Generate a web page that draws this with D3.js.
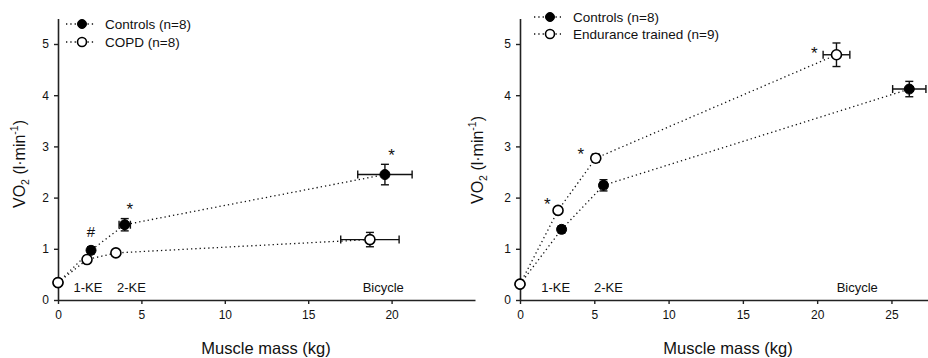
<!DOCTYPE html>
<html>
<head>
<meta charset="utf-8">
<script src="https://cdn.jsdelivr.net/npm/d3@7"></script>
<style>
body { margin: 0; background: #fff; }
svg text { font-family: "Liberation Sans", Arial, sans-serif; fill: #111; }
</style>
</head>
<body>
<div id="chart"></div>
<script>
// left panel: Controls vs COPD
var leftControls = [
    {x: 0, y: 0.34, xe: 0, ye: 0},
    {x: 1.98, y: 0.97, xe: 0.1, ye: 0.07},
    {x: 4.0, y: 1.47, xe: 0.34, ye: 0.12},
    {x: 19.6, y: 2.45, xe: 1.63, ye: 0.2}
];
var leftCopd = [
    {x: 0, y: 0.34, xe: 0, ye: 0},
    {x: 1.74, y: 0.79, xe: 0.1, ye: 0.06},
    {x: 3.47, y: 0.92, xe: 0.2, ye: 0.05},
    {x: 18.7, y: 1.18, xe: 1.75, ye: 0.14}
];
// right panel: Controls vs Endurance trained
var rightControls = [
    {x: 0, y: 0.31, xe: 0, ye: 0},
    {x: 2.8, y: 1.38, xe: 0.15, ye: 0.07},
    {x: 5.62, y: 2.24, xe: 0.22, ye: 0.11},
    {x: 26.2, y: 4.12, xe: 1.12, ye: 0.15}
];
var rightTrained = [
    {x: 0, y: 0.31, xe: 0, ye: 0},
    {x: 2.56, y: 1.75, xe: 0.12, ye: 0.06},
    {x: 5.1, y: 2.77, xe: 0.2, ye: 0.08},
    {x: 21.3, y: 4.79, xe: 0.9, ye: 0.23}
];
var xTicks = [0, 5, 10, 15, 20];
var xTicksRight = [0, 5, 10, 15, 20, 25];
var yTicks = [0, 1, 2, 3, 4, 5];
var modeLabelsLeft = [{t: "1-KE", x: 1.8}, {t: "2-KE", x: 4.4}, {t: "Bicycle", x: 19.5}];
var modeLabelsRight = [{t: "1-KE", x: 2.4}, {t: "2-KE", x: 5.95}, {t: "Bicycle", x: 22.7}];
var marksLeft = [{t: "#", x: 1.98, y: 1.33}, {t: "*", x: 4.3, y: 1.83}, {t: "*", x: 20.0, y: 2.89}];
var marksRight = [{t: "*", x: 1.84, y: 1.92}, {t: "*", x: 4.1, y: 2.91}, {t: "*", x: 19.8, y: 4.88}];

var svg = d3.select("#chart").append("svg")
    .attr("width", 928)
    .attr("height", 358);

var yScale = d3.scaleLinear().domain([0, 5.5]).range([300, 18.4]);

function drawPanel(cfg){
    var x = d3.scaleLinear().domain(cfg.xDomain).range(cfg.xRange);
    var g = svg.append("g");

    // axes
    var xa = g.append("g").attr("transform", "translate(0,300)")
        .call(d3.axisBottom(x).tickValues(cfg.xTicks).tickSize(4).tickSizeOuter(0).tickPadding(6));
    var ya = g.append("g").attr("transform", "translate(" + cfg.xRange[0] + ",0)")
        .call(d3.axisLeft(yScale).tickValues(yTicks).tickFormat(d3.format("d")).tickSize(4).tickSizeOuter(0).tickPadding(5));
    [xa, ya].forEach(function(a){
        a.select(".domain").attr("stroke", "#222").attr("stroke-width", 1.6);
        a.selectAll(".tick line").attr("stroke", "#222").attr("stroke-width", 1.4);
        a.selectAll(".tick text").attr("font-size", 12).attr("fill", "#111")
            .style("font-family", "Liberation Sans, Arial, sans-serif");
    });

    // axis titles
    g.append("text")
        .attr("x", cfg.xTitleX).attr("y", 354)
        .attr("text-anchor", "middle").attr("font-size", 16.5)
        .text("Muscle mass (kg)");
    var yt = g.append("text")
        .attr("transform", "translate(" + cfg.yTitleX + "," + cfg.yTitleY + ") rotate(-90)")
        .attr("text-anchor", "middle").attr("font-size", 16);
    yt.append("tspan").text("VO");
    yt.append("tspan").attr("font-size", 10.5).attr("dy", 4).text("2");
    yt.append("tspan").attr("dy", -4).text(" (l\u00B7min");
    yt.append("tspan").attr("font-size", 10.5).attr("dy", -7).text("-1");
    yt.append("tspan").attr("dy", 7).text(")");

    var line = d3.line().x(function(d){ return x(d.x); }).y(function(d){ return yScale(d.y); });

    cfg.series.forEach(function(s){
        g.append("path").datum(s.data)
            .attr("d", line)
            .attr("fill", "none")
            .attr("stroke", "#111")
            .attr("stroke-width", 1.3)
            .attr("stroke-dasharray", "1.3,3");
    });

    // error bars and markers (filled first, open series drawn on top)
    cfg.series.forEach(function(s){
        var eg = g.append("g").attr("stroke", "#111").attr("stroke-width", 1.4);
        s.data.forEach(function(d){
            if(d.xe > 0){
                eg.append("line").attr("x1", x(d.x - d.xe)).attr("x2", x(d.x + d.xe))
                    .attr("y1", yScale(d.y)).attr("y2", yScale(d.y));
                [d.x - d.xe, d.x + d.xe].forEach(function(v){
                    eg.append("line").attr("x1", x(v)).attr("x2", x(v))
                        .attr("y1", yScale(d.y) - 4).attr("y2", yScale(d.y) + 4);
                });
            }
            if(d.ye > 0){
                eg.append("line").attr("x1", x(d.x)).attr("x2", x(d.x))
                    .attr("y1", yScale(d.y - d.ye)).attr("y2", yScale(d.y + d.ye));
                [d.y - d.ye, d.y + d.ye].forEach(function(v){
                    eg.append("line").attr("x1", x(d.x) - 4).attr("x2", x(d.x) + 4)
                        .attr("y1", yScale(v)).attr("y2", yScale(v));
                });
            }
        });
        g.append("g").selectAll("circle").data(s.data).enter().append("circle")
            .attr("cx", function(d){ return x(d.x); })
            .attr("cy", function(d){ return yScale(d.y); })
            .attr("r", 5)
            .attr("fill", s.filled ? "#000" : "#fff")
            .attr("stroke", "#000")
            .attr("stroke-width", s.filled ? 1 : 1.6);
    });

    // mode labels
    g.selectAll(".mode").data(cfg.modes).enter().append("text")
        .attr("x", function(d){ return x(d.x); })
        .attr("y", 292)
        .attr("text-anchor", "middle").attr("font-size", 13)
        .text(function(d){ return d.t; });

    // significance marks
    g.selectAll(".sig").data(cfg.marks).enter().append("text")
        .attr("x", function(d){ return x(d.x); })
        .attr("y", function(d){ return yScale(d.y) + (d.t == "*" ? 8.5 : 5.5); })
        .attr("text-anchor", "middle").attr("font-size", function(d){ return d.t == "*" ? 17 : 15; })
        .text(function(d){ return d.t; });

    // legend
    var lg = g.append("g");
    cfg.legendOrder.forEach(function(s, i){
        var ly = cfg.legend.y + i * cfg.legend.dy;
        lg.append("line").attr("x1", cfg.legend.x1).attr("x2", cfg.legend.x2)
            .attr("y1", ly).attr("y2", ly)
            .attr("stroke", "#111").attr("stroke-width", 1.3).attr("stroke-dasharray", "1.3,3");
        lg.append("circle").attr("cx", cfg.legend.cx).attr("cy", ly).attr("r", 4.5)
            .attr("fill", s.filled ? "#000" : "#fff")
            .attr("stroke", "#000").attr("stroke-width", s.filled ? 1 : 1.6);
        lg.append("text").attr("x", cfg.legend.tx).attr("y", ly + 5)
            .attr("font-size", 13.5).text(s.name);
    });
}

var sControlsL = {name: "Controls (n=8)", data: leftControls, filled: true};
var sCopd = {name: "COPD (n=8)", data: leftCopd, filled: false};
var sControlsR = {name: "Controls (n=8)", data: rightControls, filled: true};
var sTrained = {name: "Endurance trained (n=9)", data: rightTrained, filled: false};

drawPanel({
    xDomain: [0, 25], xRange: [58, 475], xTicks: xTicks,
    xTitleX: 266, yTitleX: 25, yTitleY: 164,
    series: [sControlsL, sCopd],
    legendOrder: [sControlsL, sCopd],
    modes: modeLabelsLeft, marks: marksLeft,
    legend: {x1: 66, x2: 95, cx: 82, tx: 105, y: 24, dy: 18}
});

drawPanel({
    xDomain: [0, 27.5], xRange: [520, 928.6], xTicks: xTicksRight,
    xTitleX: 728, yTitleX: 483, yTitleY: 160,
    series: [sControlsR, sTrained],
    legendOrder: [sControlsR, sTrained],
    modes: modeLabelsRight, marks: marksRight,
    legend: {x1: 534, x2: 561, cx: 550, tx: 573, y: 17, dy: 17}
});
</script>
</body>
</html>
